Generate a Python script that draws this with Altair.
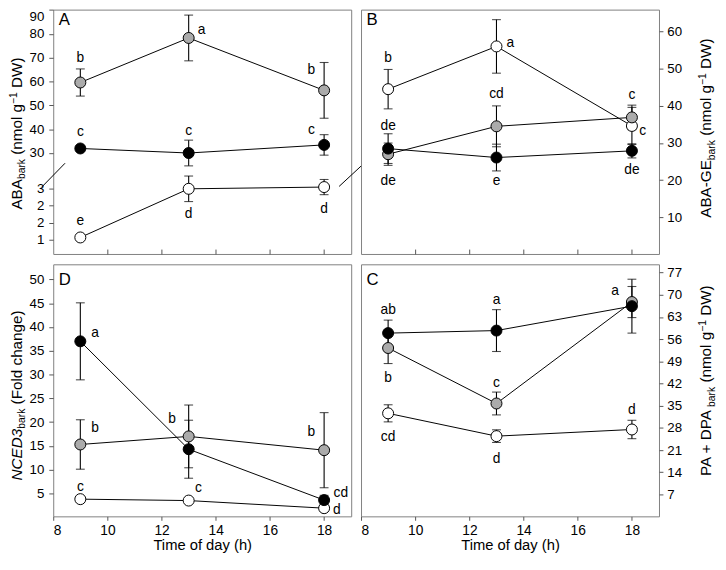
import altair as alt
import pandas as pd

FONT = "Liberation Sans"

# ---------------- data ----------------
times = [9, 13, 18]
series_names = ["white", "gray", "black"]
fill_colors = ["#ffffff", "#ababab", "#000000"]

# Panel A : ABA bark (white series on the lower, broken part of the axis)
A_white_mean = [1.57, 2.98, 3.03]
A_white_se = [0.05, 0.37, 0.22]
A_gray_mean = [59.6, 78.3, 56.3]
A_gray_se = [5.7, 9.6, 11.7]
A_black_mean = [31.9, 30.0, 33.4]
A_black_se = [0.8, 5.4, 4.3]
A_upper_ticks = [30, 40, 50, 60, 70, 80, 90]
A_lower_ticks = [3, 2.5, 2, 1.5]
A_lower_labels = ["3", "2", "2", "1"]

# Panel B : ABA-GE bark
B_white_mean = [44.5, 56.0, 34.6]
B_white_se = [5.3, 7.2, 5.0]
B_gray_mean = [27.0, 34.5, 36.9]
B_gray_se = [3.0, 5.5, 3.3]
B_black_mean = [28.5, 26.1, 27.9]
B_black_se = [4.0, 3.6, 1.9]
B_ticks = [10, 20, 30, 40, 50, 60]

# Panel D : NCED3 bark
D_white_mean = [3.8, 3.5, 1.9]
D_white_se = [0.3, 0.3, 0.3]
D_gray_mean = [15.3, 17.0, 14.1]
D_gray_se = [5.2, 6.6, 7.9]
D_black_mean = [37.0, 14.3, 3.6]
D_black_se = [8.1, 6.1, 1.0]
D_ticks = [5, 10, 15, 20, 25, 30, 35, 40, 45, 50]

# Panel C : PA + DPA bark
C_white_mean = [32.6, 25.4, 27.5]
C_white_se = [2.7, 2.0, 2.9]
C_gray_mean = [53.2, 35.7, 67.7]
C_gray_se = [4.9, 3.6, 4.9]
C_black_mean = [57.9, 58.7, 66.4]
C_black_se = [4.1, 6.6, 8.5]
C_ticks = [7, 14, 21, 28, 35, 42, 49, 56, 63, 70, 77]

x_ticks = [8, 10, 12, 14, 16, 18]

# significance letters: (series, time, letter, dx, dy)
A_letters = [("gray", 9, "b", 0, -25), ("gray", 13, "a", 13, -8), ("gray", 18, "b", -13, -21),
             ("black", 9, "c", 0, -17), ("black", 13, "c", 0, -22), ("black", 18, "c", -13, -15),
             ("white", 9, "e", 0, -17), ("white", 13, "d", 0, 26), ("white", 18, "d", 0, 22)]
B_letters = [("white", 9, "b", 0, -32), ("white", 13, "a", 14, -3), ("white", 18, "c", 11, 5),
             ("gray", 13, "cd", 0, -33), ("gray", 18, "c", 0, -23), ("black", 9, "de", 0, -23),
             ("gray", 9, "de", 0, 27), ("black", 13, "e", 0, 24), ("black", 18, "de", 0, 20)]
D_letters = [("black", 9, "a", 15, -8), ("gray", 9, "b", 15, -17), ("gray", 13, "b", -17, -18),
             ("gray", 18, "b", -13, -18), ("black", 18, "cd", 17, -7), ("white", 9, "c", 0, -12),
             ("white", 13, "c", 10, -13), ("white", 18, "d", 13, 2)]
C_letters = [("black", 9, "ab", 0, -23), ("gray", 9, "b", 0, 31), ("black", 13, "a", 0, -31),
             ("gray", 18, "a", -17, -11), ("gray", 13, "c", 0, -21), ("white", 9, "cd", 0, 24),
             ("white", 13, "d", 0, 23), ("white", 18, "d", 0, -20)]

# ---------------- layout constants ----------------
W = 303
H_TOP = 248.5
H_BOT = 256.3
BREAK_TOP = 3.0      # value at top of lower axis segment
BREAK_BASE = 15.26   # display position of BREAK_TOP on panel A axis
BREAK_K = 14.49      # display units per lower-segment unit
TITLE_F = 15.5
TITLE_S = 10.5

CHAR_W = {' ': .278, '(': .333, ')': .333, '+': .584, '-': .333, '−': .584, 'A': .667,
          'B': .667, 'C': .722, 'D': .722, 'E': .667, 'F': .611, 'G': .778, 'N': .722, 'P': .667,
          'W': .944, 'a': .556, 'b': .556, 'c': .5, 'd': .556, 'e': .556, 'g': .556, 'h': .556,
          'k': .5, 'l': .222, 'm': .833, 'n': .556, 'o': .556, 'r': .333, '1': .556, '3': .556}


def text_width(s, size):
    return sum(CHAR_W.get(ch, 0.556) for ch in s) * size


def panel_df(m, e):
    rows = []
    for s in series_names:
        for t, mm, ee in zip(times, m[s], e[s]):
            rows.append({"series": s, "time": t, "mean": mm, "se": ee})
    return pd.DataFrame(rows)


def one():
    return alt.Data(values=[{}])


def vertical_title(segments, xb, yc):
    """segments: (text, size, shift_up, italic); rotated text reading bottom to top."""
    total = sum(text_width(t, s) for t, s, _, _ in segments)
    y = yc + total / 2
    layers = []
    for t, s, sh, it in segments:
        lead = len(t) - len(t.lstrip(" "))
        y -= lead * CHAR_W[' '] * s
        t = t.strip(" ")
        kw = dict(text=t, angle=270, align="left", baseline="alphabetic", fontSize=s,
                  font=FONT, color="black")
        if it:
            kw["fontStyle"] = "italic"
        layers.append(alt.Chart(one()).mark_text(**kw).encode(
            x=alt.value(xb - sh), y=alt.value(y)))
        y -= text_width(t, s)
    return layers


def unit_title(main, unit, italic=False):
    return [(main, TITLE_F, 0, italic), ("bark", TITLE_S, -3.5, False)] + unit


NMOL = [(" (nmol g", TITLE_F, 0, False), ("−1", TITLE_S, 5.5, False), (" DW)", TITLE_F, 0, False)]


def make_panel(df, letters, domain, yaxis, xaxis, height, letter_txt, letter_y,
               title_layers, low_series=None, extra=None):
    if low_series is None:
        expr = lambda v: v
    else:
        expr = lambda v: (f"datum.series === '{low_series}' ? {BREAK_BASE} - ({BREAK_TOP} - ({v})) * {BREAK_K} : {v}")
    base = alt.Chart(df).transform_calculate(
        disp=expr("datum.mean"),
        dlo=expr("datum.mean - datum.se"),
        dhi=expr("datum.mean + datum.se"),
    )
    xs = alt.Scale(domain=[8, 19], nice=False, zero=False)
    ys = alt.Scale(domain=domain, nice=False, zero=False)
    xe = alt.X("time:Q", scale=xs, axis=xaxis)

    def ye(f):
        return alt.Y(f, scale=ys, axis=yaxis)

    line = base.mark_line(color="black", strokeWidth=1).encode(
        x=xe, y=ye("disp:Q"), detail="series:N")
    rule = base.mark_rule(color="black", strokeWidth=1.1).encode(
        x=xe, y=ye("dlo:Q"), y2="dhi:Q")
    cap_lo = base.mark_tick(orient="horizontal", size=9, thickness=1.1, color="black").encode(
        x=xe, y=ye("dlo:Q"))
    cap_hi = base.mark_tick(orient="horizontal", size=9, thickness=1.1, color="black").encode(
        x=xe, y=ye("dhi:Q"))
    pts = base.mark_circle(size=125, stroke="black", strokeWidth=1, opacity=1).encode(
        x=xe, y=ye("disp:Q"),
        color=alt.Color("series:N", scale=alt.Scale(domain=series_names, range=fill_colors),
                        legend=None),
    )
    lets = []
    for s, t, l, dx, dy in letters:
        lets.append(base.transform_filter(f"datum.series === '{s}' && datum.time === {t}")
                    .mark_text(text=l, dx=dx, dy=dy, fontSize=14, font=FONT, color="black",
                               align="center", baseline="middle")
                    .encode(x=xe, y=ye("disp:Q")))
    plet = alt.Chart(one()).mark_text(text=letter_txt, fontSize=17, font=FONT, align="left",
                                      baseline="alphabetic", color="black").encode(
        x=alt.value(5.5), y=alt.value(letter_y))
    layers = [line, rule, cap_lo, cap_hi, pts] + lets + [plet] + title_layers + (extra or [])
    return alt.layer(*layers).properties(width=W, height=height)


def yaxis_left(values, label_expr=None, flush=False):
    kw = dict(values=values, orient="left", tickSize=4.5, labelPadding=5, title=None)
    if label_expr:
        kw["labelExpr"] = label_expr
    if flush:
        kw["labelFlush"] = 3
    return alt.Axis(**kw)


def yaxis_right(values):
    return alt.Axis(values=values, orient="right", tickSize=4, labelPadding=4, title=None)


top_xaxis = alt.Axis(values=x_ticks[1:], labels=False, tickSize=5, offset=-5, title=None)
bot_xaxis = alt.Axis(values=x_ticks, tickSize=4, labelPadding=3.5, labelFontSize=14,
                     title="Time of day (h)", titlePadding=0, titleFontSize=15)

# ---- panel A (broken axis) ----
A_df = panel_df({"white": A_white_mean, "gray": A_gray_mean, "black": A_black_mean},
                {"white": A_white_se, "gray": A_gray_se, "black": A_black_se})
A_lower_disp = [BREAK_BASE - (BREAK_TOP - v) * BREAK_K for v in A_lower_ticks]
expr_parts = [f"abs(datum.value - ({d:.4f})) < 0.01 ? '{l}'" for d, l in zip(A_lower_disp, A_lower_labels)]
A_label_expr = " : ".join(expr_parts) + " : datum.label"
A_breaks = [
    alt.Chart(one()).mark_rule(color="black", strokeWidth=1).encode(
        x=alt.value(-12), y=alt.value(180.8), x2=alt.value(12), y2=alt.value(156.2)),
    alt.Chart(one()).mark_rule(color="black", strokeWidth=1).encode(
        x=alt.value(290.7), y=alt.value(179.8), x2=alt.value(314), y2=alt.value(158.2)),
]
panel_A = make_panel(
    A_df, A_letters, [-12.4, 90.2],
    yaxis_left(A_upper_ticks + A_lower_disp, A_label_expr, flush=True), top_xaxis, H_TOP,
    "A", 16, vertical_title(unit_title("ABA", NMOL), -31.8, 126),
    low_series="white", extra=A_breaks)

# ---- panel B ----
B_df = panel_df({"white": B_white_mean, "gray": B_gray_mean, "black": B_black_mean},
                {"white": B_white_se, "gray": B_gray_se, "black": B_black_se})
panel_B = make_panel(
    B_df, B_letters, [0.15, 65.9], yaxis_right(B_ticks), top_xaxis, H_TOP,
    "B", 16, vertical_title(unit_title("ABA-GE", NMOL), 356, 120.5))

# ---- panel D ----
D_df = panel_df({"white": D_white_mean, "gray": D_gray_mean, "black": D_black_mean},
                {"white": D_white_se, "gray": D_gray_se, "black": D_black_se})
panel_D = make_panel(
    D_df, D_letters, [0.18, 53.2], yaxis_left(D_ticks), bot_xaxis, H_BOT,
    "D", 21.5, vertical_title(unit_title("NCED3", [(" (Fold change)", TITLE_F, 0, False)], True),
                              -31.8, 133.3))

# ---- panel C ----
C_df = panel_df({"white": C_white_mean, "gray": C_gray_mean, "black": C_black_mean},
                {"white": C_white_se, "gray": C_gray_se, "black": C_black_se})
panel_C = make_panel(
    C_df, C_letters, [0.1, 79.6], yaxis_right(C_ticks), bot_xaxis, H_BOT,
    "C", 21.5, vertical_title(unit_title("PA + DPA", NMOL), 356, 118.3))

chart = alt.concat(panel_A, panel_B, panel_D, panel_C, columns=2, spacing=10,
                   bounds="flush",
                   padding={"top": -4, "left": 0, "right": 0, "bottom": 0}).configure_view(
    stroke="#808080", strokeWidth=1
).configure_axis(
    labelFont=FONT, labelFontSize=13.5, labelColor="black", tickColor="#555555",
    titleFont=FONT, titleFontWeight="normal", titleColor="black", grid=False, domain=False,
)

chart.save("out.html", embed_options={"renderer": "svg", "actions": False})
